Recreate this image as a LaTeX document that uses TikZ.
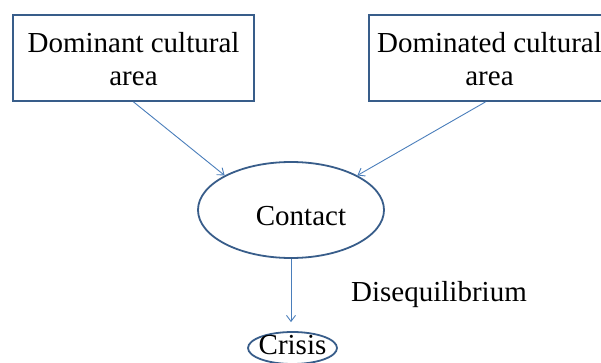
\documentclass[tikz,border=0pt]{standalone}
\usepackage{fontspec}
\setmainfont{Liberation Serif}
\usetikzlibrary{arrows.meta,shapes.geometric}
\definecolor{boxline}{HTML}{385D8A}
\definecolor{arrowline}{HTML}{4A7EBB}
\newcommand{\topstrut}{\rule{0pt}{23pt}}
\tikzset{
  areabox/.style={draw=boxline, line width=1.8pt, rectangle, minimum width=241pt,
    minimum height=86pt, inner sep=0pt, align=center,
    font=\fontsize{29}{33}\selectfont},
  oval/.style={draw=boxline, line width=1.8pt, ellipse, inner sep=0pt},
  caption/.style={font=\fontsize{29}{33}\selectfont, inner sep=0pt, anchor=base},
  flow/.style={draw=arrowline, line width=0.9pt,
    -{Straight Barb[length=6pt,width=9pt,line width=0.9pt]}}
}
\begin{document}
\begin{tikzpicture}[x=1pt,y=-1pt]
  \useasboundingbox (0,0) rectangle (601,363);
  \clip (0,0) rectangle (601,363);

  % the two cultural areas
  \node[areabox] (dominant) at (133.5,58) {\topstrut Dominant cultural\\area};
  \node[areabox] (dominated) at (489.5,58) {\topstrut Dominated cultural\\area};

  % contact and crisis
  \node[oval, minimum width=186pt, minimum height=96pt] (contact) at (291,210) {};
  \node[caption] (contacttext) at (301,225) {Contact};
  \node[oval, minimum width=89pt, minimum height=32pt] (crisis) at (292.5,348) {};
  \node[caption] (crisistext) at (292.5,354) {Crisis};

  \node[caption, anchor=base west] (diseq) at (351,301) {Disequilibrium};

  % connectors
  \draw[flow] (dominant.south) -- (contact.north west);
  \draw[flow] ([xshift=-4pt]dominated.south) -- (contact.north east);
  \draw[flow, shorten >=9pt] (contact.south) -- (contact.south |- crisis.north);
\end{tikzpicture}
\end{document}
